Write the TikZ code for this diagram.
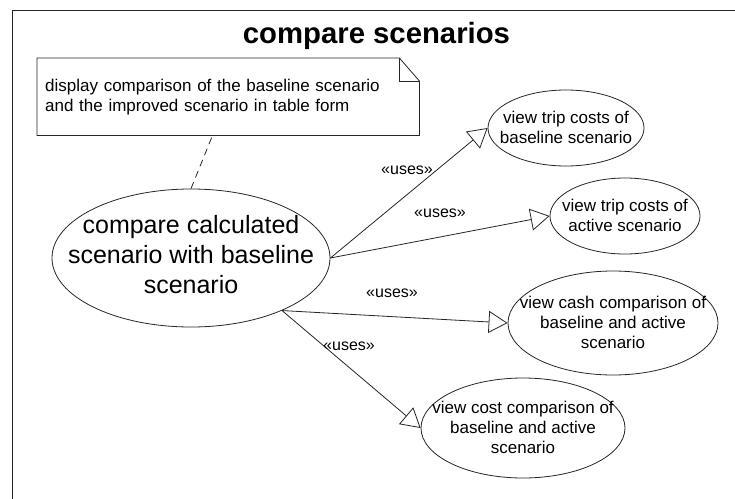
\documentclass[tikz,border=0pt]{standalone}
\usepackage{fontspec}
\setmainfont{Liberation Sans}
\usetikzlibrary{arrows.meta,shapes.geometric}
\begin{document}
\begin{tikzpicture}[x=1pt,y=-1pt,
  line/.style={draw=black!85, line width=0.8pt},
  uc/.style={line, ellipse, inner sep=0pt},
  uctext/.style={font=\fontsize{17}{20}\selectfont, align=center, inner sep=0pt},
  uses/.style={line, -{Triangle[length=19pt,width=22pt,fill=white]}},
  lbl/.style={font=\fontsize{16}{19}\selectfont, inner sep=1pt}
]
\useasboundingbox (0,0) rectangle (735,498);
\fill[white] (0,0) rectangle (735,498);
\begin{scope}
  \clip (0,0) rectangle (735,498);
  \draw[black!85, line width=1pt] (12,10) rectangle (760,520);
\end{scope}

% title
\node[font=\bfseries\fontsize{29.3}{34}\selectfont, anchor=base] (title) at (376.5,43.5) {compare scenarios};

% note
\node[minimum width=382pt, minimum height=77pt, inner xsep=8pt, text width=366pt,
      align=left, font=\fontsize{17}{20}\selectfont, anchor=north west] (note) at (37,58)
  {display comparison of the baseline scenario\\and the improved scenario in table form};
\draw[line] (note.north west) -- ([xshift=-20pt]note.north east) -- ([yshift=-23pt]note.north east)
  -- (note.south east) -- (note.south west) -- cycle;
\draw[line] ([xshift=-20pt]note.north east) |- ([yshift=-23pt]note.north east);

% main use case
\node[uc, minimum width=278pt, minimum height=138pt] (main) at (191,258) {};
\node[font=\fontsize{25}{30}\selectfont, align=center, inner sep=0pt] (maintext)
  at ([yshift=3pt]main.center) {compare calculated\\scenario with baseline\\scenario};

% other use cases
\node[uc, minimum width=156pt, minimum height=76pt] (e1) at (566,128) {};
\node[uctext] (t1) at ([yshift=1pt]e1.center) {view trip costs of\\baseline scenario};
\node[uc, minimum width=150pt, minimum height=76pt] (e2) at (625,216) {};
\node[uctext] (t2) at ([yshift=1pt]e2.center) {view trip costs of\\active scenario};
\node[uc, minimum width=210pt, minimum height=104pt] (e3) at (613,323) {};
\node[uctext] (t3) at ([yshift=1pt]e3.center) {view cash comparison of\\baseline and active\\scenario};
\node[uc, minimum width=204pt, minimum height=100pt] (e4) at (523,428) {};
\node[uctext] (t4) at ([yshift=1pt]e4.center) {view cost comparison of\\baseline and active\\scenario};

% connectors
\draw[line, dash pattern=on 7pt off 5pt] (main.north) -- (note);
\draw[uses] (main.east) -- (e1.west);
\draw[uses] (main.east) -- (e2.west);
\draw[uses] (main.-30) -- (e3.west);
\draw[uses] (main.-30) -- (e4.west);

% labels
\node[lbl] (u1) at (407,170) {«uses»};
\node[lbl] (u2) at (440,213) {«uses»};
\node[lbl] (u3) at (392,293) {«uses»};
\node[lbl] (u4) at (349,346) {«uses»};
\end{tikzpicture}
\end{document}
